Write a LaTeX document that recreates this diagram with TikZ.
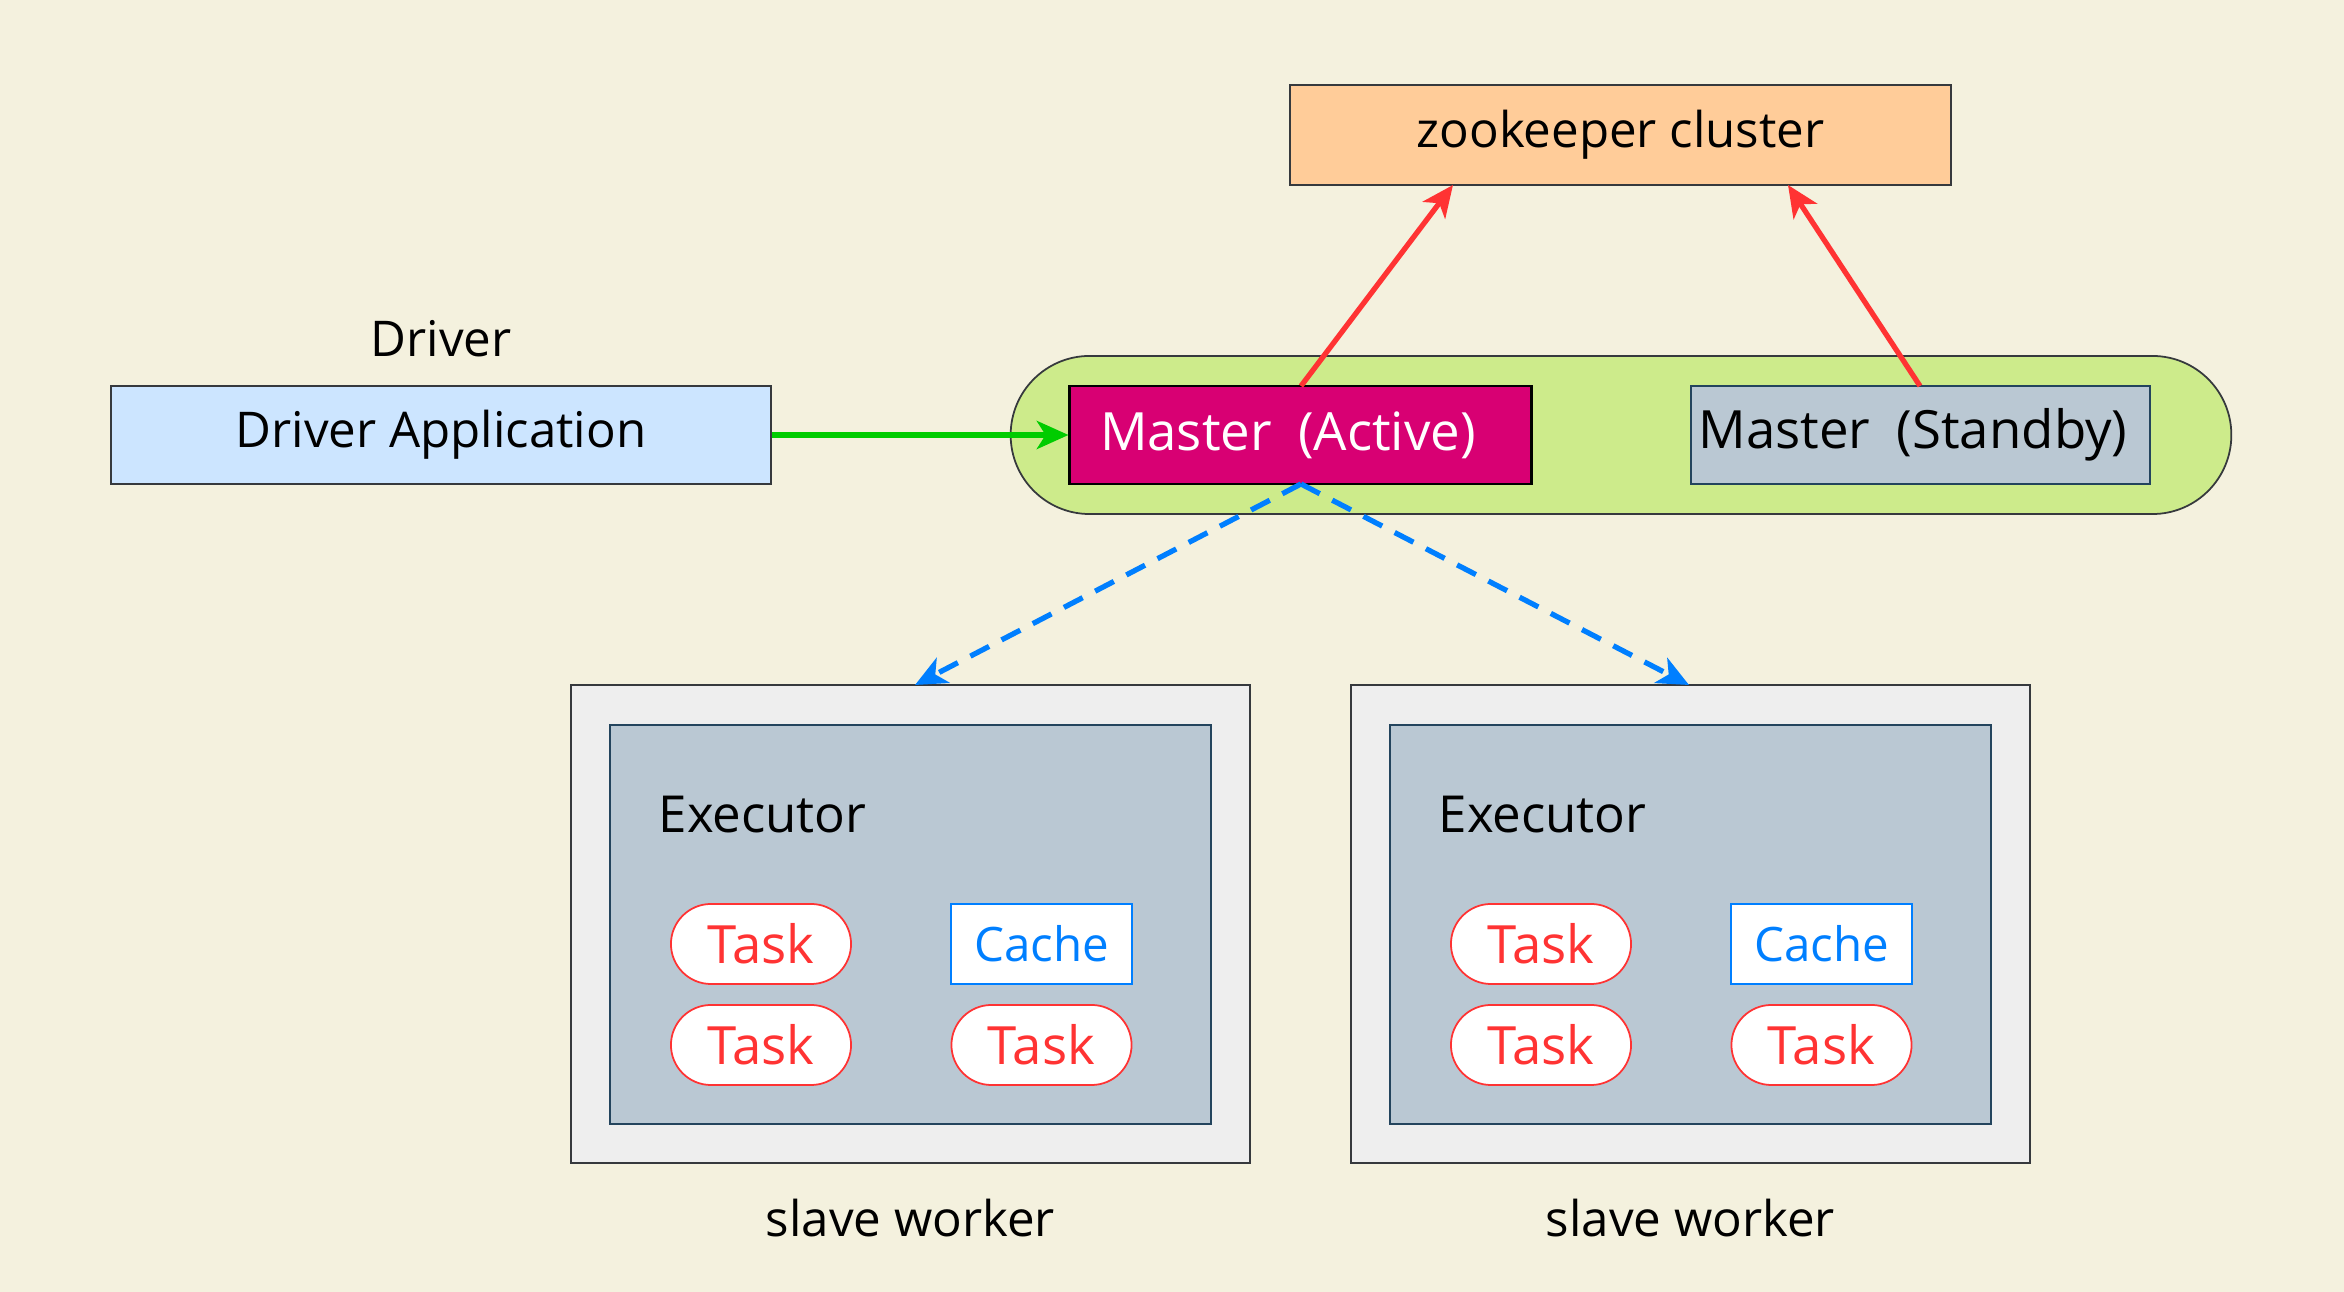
\documentclass[tikz,border=0pt]{standalone}
\usepackage{fontspec}
\setmainfont{Open Sans}
\usetikzlibrary{arrows.meta,shapes.misc}
\definecolor{bg}{HTML}{F4F1DE}
\definecolor{zk}{HTML}{FFCC99}
\definecolor{drv}{HTML}{CCE5FF}
\definecolor{pill}{HTML}{CDEB8B}
\definecolor{act}{HTML}{D80073}
\definecolor{gry}{HTML}{BAC8D3}
\definecolor{gryb}{HTML}{23445D}
\definecolor{slv}{HTML}{EEEEEE}
\definecolor{dk}{HTML}{36393D}
\definecolor{rd}{HTML}{FF3333}
\definecolor{bl}{HTML}{007FFF}
\definecolor{gr}{HTML}{00CC00}
\tikzset{
  px/.style={x=0.01cm,y=-0.01cm},
  txt/.style={font=\fontsize{14}{17}\selectfont},
  mtxt/.style={font=\fontsize{15}{18}\selectfont},
  box/.style={draw=dk,line width=0.5pt,inner sep=0pt,txt},
  taskbox/.style={rounded rectangle,draw=rd,fill=white,line width=0.5pt,minimum width=1.8cm,minimum height=0.8cm,inner sep=0pt,text=rd,font=\fontsize{15}{18}\selectfont},
  cachebox/.style={rectangle,draw=bl,fill=white,line width=0.5pt,minimum width=1.81cm,minimum height=0.8cm,inner sep=0pt,text=bl,font=\fontsize{13.5}{16}\selectfont},
  redarr/.style={draw=rd,line width=1.5pt,-{Stealth[length=9pt,width=8pt,inset=2.5pt]}},
  bluarr/.style={draw=bl,line width=1.5pt,dash pattern=on 6pt off 4pt,-{Stealth[length=9pt,width=8pt,inset=2.5pt]}},
  grnarr/.style={draw=gr,line width=1.5pt,-{Stealth[length=9pt,width=8pt,inset=2.5pt]}},
}
\begin{document}
\begin{tikzpicture}[px]
\fill[bg] (0,0) rectangle (2344,1292);
\useasboundingbox (0,0) rectangle (2344,1292);
% zookeeper
\node[box,fill=zk,minimum width=6.61cm,minimum height=1.0cm] (zk) at (1620.5,135) {zookeeper cluster};
% driver
\node[txt] (drvlbl) at (441,339) {Driver};
\node[box,fill=drv,minimum width=6.6cm,minimum height=0.98cm] (drv) at (441,435) {Driver Application};
% pill
\node[rounded rectangle,draw=dk,fill=pill,line width=0.5pt,minimum width=12.2cm,minimum height=1.58cm,inner sep=0pt] (pill) at (1621,435) {};
\node[draw=black,line width=0.8pt,fill=act,minimum width=4.61cm,minimum height=0.98cm,inner sep=0pt,text=white,mtxt] (ma) at (1300.5,435) {\hspace{-0.25cm}Master\hspace{0.5em}(Active)};
\node[draw=gryb,line width=0.6pt,fill=gry,minimum width=4.59cm,minimum height=0.98cm,inner sep=0pt,mtxt] (ms) at (1920.5,435) {\hspace{-0.15cm}Master\hspace{0.5em}(Standby)};
% slave workers
\foreach \i/\dx in {1/0,2/780}{
  \node[box,fill=slv,minimum width=6.79cm,minimum height=4.78cm] (sw\i) at (910.5+\dx,924) {};
  \node[draw=gryb,line width=0.6pt,fill=gry,minimum width=6.01cm,minimum height=3.99cm,inner sep=0pt] (ex\i) at (910.5+\dx,924.5) {};
  \node[anchor=west,inner sep=0pt,font=\fontsize{14.5}{17}\selectfont] (exl\i) at (658+\dx,815) {Executor};
  \node[taskbox] (ta\i) at (761+\dx,944) {Task};
  \node[taskbox] (tb\i) at (761+\dx,1045) {Task};
  \node[cachebox] (ca\i) at (1041.5+\dx,944) {Cache};
  \node[taskbox] (tc\i) at (1041.5+\dx,1045) {Task};
  \node[txt] (swl\i) at (910.5+\dx,1218) {slave worker};
}
% connectors
\coordinate (mat) at (1301,386);
\coordinate (mab) at (1301,484);
\coordinate (mst) at (1920,386);
\coordinate (zka) at (1453,185);
\coordinate (zkb) at (1788,185);
\coordinate (swt1) at (915,685);
\coordinate (swt2) at (1689,685);
\draw[redarr] (mat) -- (zka);
\draw[redarr] (mst) -- (zkb);
\draw[grnarr] (drv.east) -- (ma.west);
\draw[bluarr] (mab) -- (swt1);
\draw[bluarr] (mab) -- (swt2);
\end{tikzpicture}
\end{document}
